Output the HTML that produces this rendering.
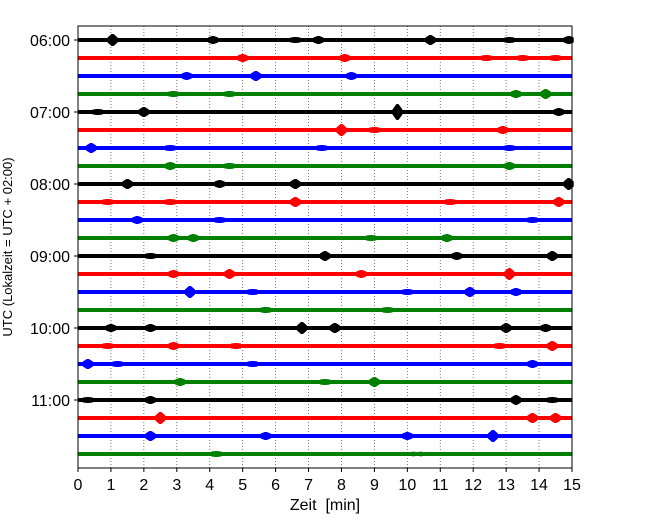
<!DOCTYPE html>
<html><head><meta charset="utf-8"><style>
body{margin:0;background:#fff;width:650px;height:520px;overflow:hidden}
svg text{font-family:"Liberation Sans","DejaVu Sans",sans-serif;fill:#000}
</style></head><body>
<svg id="chart" width="650" height="520">
<g id="grid"></g>
<g id="traces"></g>
<rect x="78" y="26" width="494" height="442" fill="none" stroke="#000" stroke-width="1"/>
<g id="xaxis"></g>
<g id="yaxis"></g>
<text x="325" y="510" text-anchor="middle" font-size="16" xml:space="preserve">Zeit  [min]</text>
<text transform="translate(12,247) rotate(-90)" text-anchor="middle" font-size="13">UTC (Lokalzeit = UTC + 02:00)</text>
</svg>
<script>
const xTicks=[0,1,2,3,4,5,6,7,8,9,10,11,12,13,14,15];
const hourLabels=["06:00","07:00","08:00","09:00","10:00","11:00"];
const colors=["#000","#f00","#00f","#008000"];
// event times (min) per trace
const eventTimes=[
[1.05,4.1,6.6,7.3,10.7,13.1,14.9],[5.0,8.1,12.4,13.5,14.5],[3.3,5.4,8.3],[2.9,4.6,13.3,14.2],
[0.6,2.0,9.7,14.6],[8.0,9.0,12.9],[0.4,2.8,7.4,13.1],[2.8,4.6,13.1],
[1.5,4.3,6.6,14.9],[0.9,2.8,6.6,11.3,14.6],[1.8,4.3,13.8],[2.9,3.5,8.9,11.2],
[2.2,7.5,11.5,14.4],[2.9,4.6,8.6,13.1],[3.4,5.3,10.0,11.9,13.3],[5.7,9.4],
[1.0,2.2,6.8,7.8,13.0,14.2],[0.9,2.9,4.8,12.8,14.4],[0.3,1.2,5.3,13.8],[3.1,7.5,9.0],
[0.3,2.2,13.3,14.4],[2.5,13.8,14.5],[2.2,5.7,10.0,12.6],[4.2,10.3]];
// event amplitudes (px) per trace
const eventAmps=[
[6,4,3,4,5,3,4],[4,4,3,3,3],[4,5,4],[3,3,4,5],
[3,5,8,4],[6,3,4],[5,3,3,3],[4,3,4],
[5,4,5,6],[3,3,5,3,5],[4,3,3],[4,4,3,4],
[3,5,4,5],[4,5,4,6],[6,3,3,5,4],[3,3],
[4,4,6,5,5,4],[3,4,3,3,5],[5,3,3,4],[4,3,5],
[3,4,5,3],[6,5,5],[5,4,4,6],[3,2]];
const NS="http://www.w3.org/2000/svg";
const X=m=>78+m*(494/15);
const Y=i=>40+i*18;
function mk(t,a,p){const e=document.createElementNS(NS,t);for(const k in a)e.setAttribute(k,a[k]);p.appendChild(e);return e;}
const grid=document.getElementById('grid'),xa=document.getElementById('xaxis'),ya=document.getElementById('yaxis'),tr=document.getElementById('traces');
xTicks.forEach(v=>{
  if(v>0&&v<15){const g=mk('line',{x1:X(v),x2:X(v),y1:26,y2:468,stroke:'#555','stroke-width':0.8,'stroke-dasharray':'1,2'},grid);
  
  }
  const t=mk('line',{x1:X(v),x2:X(v),y1:468,y2:472,stroke:'#000'},xa);
  
  
  const l=mk('text',{x:X(v),y:490,'text-anchor':'middle','font-size':16},xa);l.textContent=v;
  
  
});
hourLabels.forEach((h,k)=>{
  const y=Y(k*4);
  const t=mk('line',{x1:74,x2:78,y1:y,y2:y,stroke:'#000'},ya);
  
  
  const l=mk('text',{x:70,y:y+6,'text-anchor':'end','font-size':16},ya);l.textContent=h;
  
  
});
eventTimes.forEach((ev,i)=>{
  const c=colors[i%4],y=Y(i);
  const g=mk('g',{},tr);
  
  
  mk('line',{x1:78,x2:572,y1:y,y2:y,stroke:c,'stroke-width':4},g);
  ev.forEach((m,j)=>{
    const a=eventAmps[i][j],x=X(m);
    const p=mk('polygon',{points:`${x-5},${y-2.5} ${x-1},${y-a} ${x+1},${y-a} ${x+5},${y-2.5} ${x+5},${y+2.5} ${x+1},${y+a} ${x-1},${y+a} ${x-5},${y+2.5}`,fill:c},g);
    
    
  });
});
</script>
</body></html>
